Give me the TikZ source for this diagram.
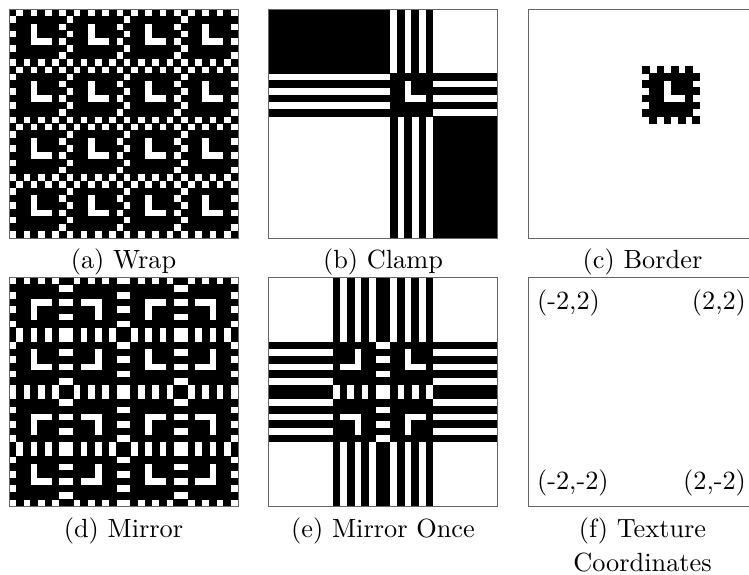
\documentclass[tikz,border=0pt]{standalone}
\usepackage{tikz}

% address modes: 0 wrap, 1 clamp, 2 border, 3 mirror, 4 mirror once
% #2 is the cell index shifted by 16 (0..31), result in \texa (-1 = outside)
\newcommand\texaddr[2]{%
  \pgfmathtruncatemacro\texa{#2-16}%
  \ifcase#1\relax
    \pgfmathtruncatemacro\texa{mod(#2,8)}%
  \or
    \pgfmathtruncatemacro\texa{min(max(\texa,0),7)}%
  \or
    \pgfmathtruncatemacro\texa{(\texa<0 || \texa>7) ? -1 : \texa}%
  \or
    \pgfmathtruncatemacro\texa{mod(#2,16)}%
    \pgfmathtruncatemacro\texa{\texa<8 ? \texa : 15-\texa}%
  \or
    \pgfmathtruncatemacro\texa{\texa<0 ? -1-(\texa) : \texa}%
    \pgfmathtruncatemacro\texa{min(\texa,7)}%
  \fi}

% 8x8 texel: checker ring, black inside with a white L
\newcommand\texel[2]{%
  \pgfmathtruncatemacro\texb{(#1==0 || #1==7 || #2==0 || #2==7) ? (mod(#1+#2,2)==0) : !((#2==3 && #1>=2 && #1<=4) || (#1==4 && #2>=3 && #2<=5))}}

\begin{document}
\begin{tikzpicture}[x=0.38pt, y=-0.38pt,
    panelframe/.style={draw=black!60, line width=0.35pt},
    caption/.style={anchor=base, inner sep=0pt, align=center, font=\fontsize{10}{12.9}\selectfont},
    corner/.style={inner sep=0pt, font=\fontsize{10}{12}\selectfont}]
    \useasboundingbox (0,0) rectangle (749,574);
    \clip (0,0) rectangle (749,574);
    % sampled panels, 32x32 cells each
    \foreach \mode/\panelx/\panely in {0/9/9, 1/268.5/9, 2/528/9, 3/9/277.5, 4/268.5/277.5}{
        \begin{scope}[shift={(\panelx,\panely)}]
            \foreach \j in {0,...,31}{
                \pgfmathtruncatemacro\texrowidx{31-\j}
                \texaddr{\mode}{\texrowidx}
                \let\texrow\texa
                \ifnum\texrow>-1
                    \pgfmathtruncatemacro\texrow{7-\texrow}
                    \foreach \i in {0,...,31}{
                        \texaddr{\mode}{\i}
                        \ifnum\texa>-1
                            \texel{\texrow}{\texa}
                            \ifnum\texb=1
                                \fill (\i*7.15625-0.25, \j*7.15625-0.25) rectangle ++(7.65625,7.65625);
                            \fi
                        \fi
                    }
                \fi
            }
            \draw[panelframe] (0,0) rectangle (229,229);
        \end{scope}
    }
    % texture coordinates panel
    \draw[panelframe] (528,277.5) rectangle ++(229,229);
    \node[corner, anchor=north west] (lbltl) at (536.5,289) {(-2,2)};
    \node[corner, anchor=north east] (lbltr) at (746.5,289) {(2,2)};
    \node[corner, anchor=south west] (lblbl) at (536.5,497) {(-2,-2)};
    \node[corner, anchor=south east] (lblbr) at (746.5,497) {(2,-2)};
    % captions
    \node[caption] (capwrap) at (123.5,268) {(a) Wrap};
    \node[caption] (capclamp) at (383,268) {(b) Clamp};
    \node[caption] (capborder) at (642.5,268) {(c) Border};
    \node[caption] (capmirror) at (123.5,537) {(d) Mirror};
    \node[caption] (capmirroronce) at (383,537) {(e) Mirror Once};
    \node[caption] (capcoords) at (642.5,571) {(f) Texture\\Coordinates};
\end{tikzpicture}
\end{document}
